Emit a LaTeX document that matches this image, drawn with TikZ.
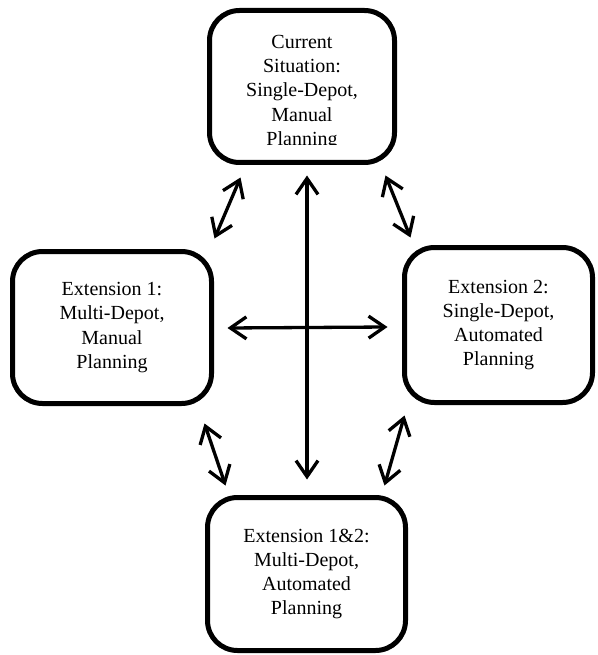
\documentclass[tikz,border=0pt]{standalone}
\usepackage{fontspec}
\setmainfont{Liberation Serif}
\usetikzlibrary{arrows.meta}
\begin{document}
\begin{tikzpicture}[x=1pt,y=-1pt,
  stagebox/.style={draw=black,line width=5pt,rounded corners=30pt,
    minimum width=#1,inner sep=0pt},
  stagetext/.style={align=center,font=\fontsize{20}{24.3}\selectfont,inner sep=0pt},
  link/.style={line width=3.3pt,{Straight Barb[length=16pt,width=22pt]}-{Straight Barb[length=16pt,width=22pt]}}]
\useasboundingbox (0,0) rectangle (597,655);

% scenario boxes
\node[stagebox=185pt,minimum height=152pt] (cur) at (302,86.5) {};
\node[stagebox=199pt,minimum height=152pt,stagetext] (ext1) at (112,327.5)
  {Extension 1:\\Multi-Depot,\\Manual\\Planning};
\node[stagebox=188pt,minimum height=155pt,stagetext] (ext2) at (498.5,325)
  {Extension 2:\\Single-Depot,\\Automated\\Planning};
\node[stagebox=198pt,minimum height=153pt,stagetext] (ext12) at (306.5,574)
  {Extension 1\&2:\\Multi-Depot,\\Automated\\Planning};

% text of the current situation, cut off at the lower edge
\begin{scope}
  \clip (207,8) rectangle (397,145);
  \node[stagetext] (curtext) at (302,92.5)
    {Current\\Situation:\\Single-Depot,\\Manual\\Planning};
\end{scope}

% transitions between scenarios
\draw[link] ([xshift=33.5pt,yshift=-12.5pt]cur.south west) -- ([xshift=0.5pt,yshift=10.5pt]ext1.north east);
\draw[link] ([xshift=-11.5pt,yshift=-10.5pt]cur.south east) -- ([xshift=8.5pt,yshift=7.5pt]ext2.north west);
\draw[link] ([xshift=-9.5pt,yshift=-17.5pt]ext1.south east) -- ([xshift=20.5pt,yshift=9.5pt]ext12.north west);
\draw[link] ([xshift=2.5pt,yshift=-10.5pt]ext2.south west) -- ([xshift=-23.5pt,yshift=9.5pt]ext12.north east);
\draw[link] ([xshift=5pt,yshift=-10.5pt]cur.south) -- ([xshift=0.5pt,yshift=15.5pt]ext12.north);
\draw[link] ([xshift=13.5pt,yshift=-0.5pt]ext1.east) -- ([xshift=-14.5pt,yshift=-2pt]ext2.west);
\end{tikzpicture}
\end{document}
